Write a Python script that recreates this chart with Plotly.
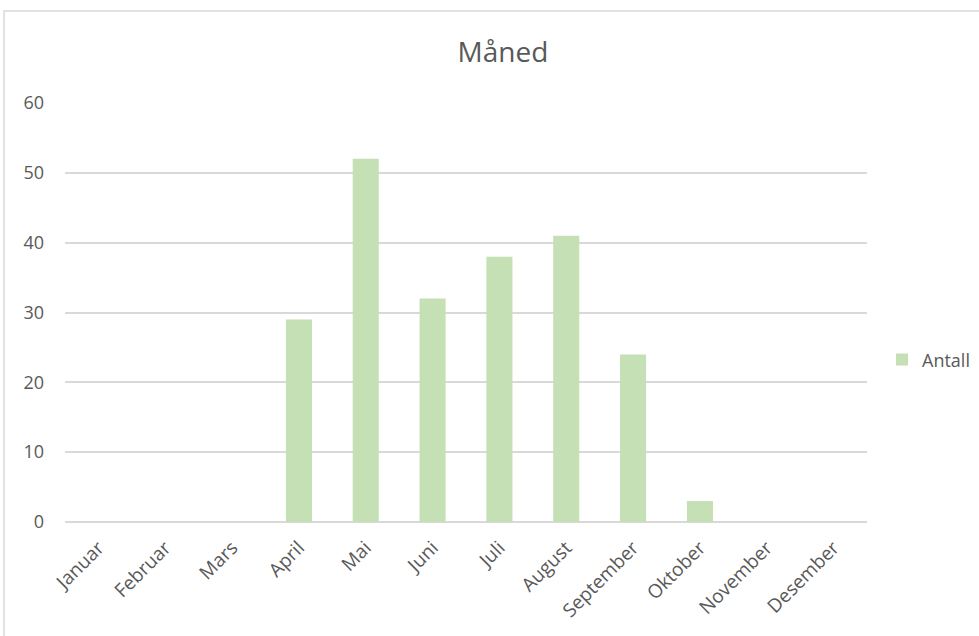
import plotly.graph_objects as go

months = ["Januar", "Februar", "Mars", "April", "Mai", "Juni", "Juli",
          "August", "September", "Oktober", "November", "Desember"]
antall = [0, 0, 0, 29, 52, 32, 38, 41, 24, 3, 0, 0]
y_ticks = [0, 10, 20, 30, 40, 50, 60]

text_color = "#595959"
font_family = "'Open Sans', sans-serif"

fig = go.Figure()
fig.add_trace(go.Bar(
    x=months,
    y=antall,
    name="Antall",
    marker=dict(color="#c5e0b4", line=dict(width=0)),
    showlegend=True,
))

fig.update_layout(
    width=979,
    height=636,
    margin=dict(l=65, r=112, t=103, b=114, autoexpand=False),
    paper_bgcolor="white",
    plot_bgcolor="white",
    bargap=0.61,
    title=dict(
        text="Måned",
        x=503 / 979,
        xanchor="center",
        y=1 - 52 / 636,
        yanchor="middle",
        font=dict(family=font_family, size=28, color=text_color),
    ),
    font=dict(family=font_family, size=18, color=text_color),
    legend=dict(
        x=(882 - 65) / 802,
        y=0.387,
        xanchor="left",
        yanchor="middle",
        font=dict(family=font_family, size=18, color=text_color),
        bgcolor="rgba(0,0,0,0)",
        itemwidth=30,
    ),
    xaxis=dict(
        type="category",
        tickangle=-45,
        showgrid=False,
        showline=False,
        ticks="",
        ticklabelstandoff=10,
        tickfont=dict(family=font_family, size=19, color=text_color),
    ),
    yaxis=dict(
        range=[0, 60],
        tickvals=y_ticks,
        showgrid=True,
        gridcolor="#d9d9d9",
        gridwidth=1.5,
        zeroline=True,
        zerolinecolor="#d9d9d9",
        zerolinewidth=1.5,
        showline=False,
        ticks="",
        ticklabelstandoff=20,
        tickfont=dict(family=font_family, size=18, color=text_color),
    ),
    shapes=[dict(
        type="rect",
        xref="paper", yref="paper",
        x0=(4 - 65) / 802, x1=1.2,
        y0=-0.4, y1=(522 - 11) / 419,
        line=dict(color="#d9d9d9", width=1.5),
        fillcolor="rgba(0,0,0,0)",
        layer="below",
    )],
)

fig.write_html("out.html")
